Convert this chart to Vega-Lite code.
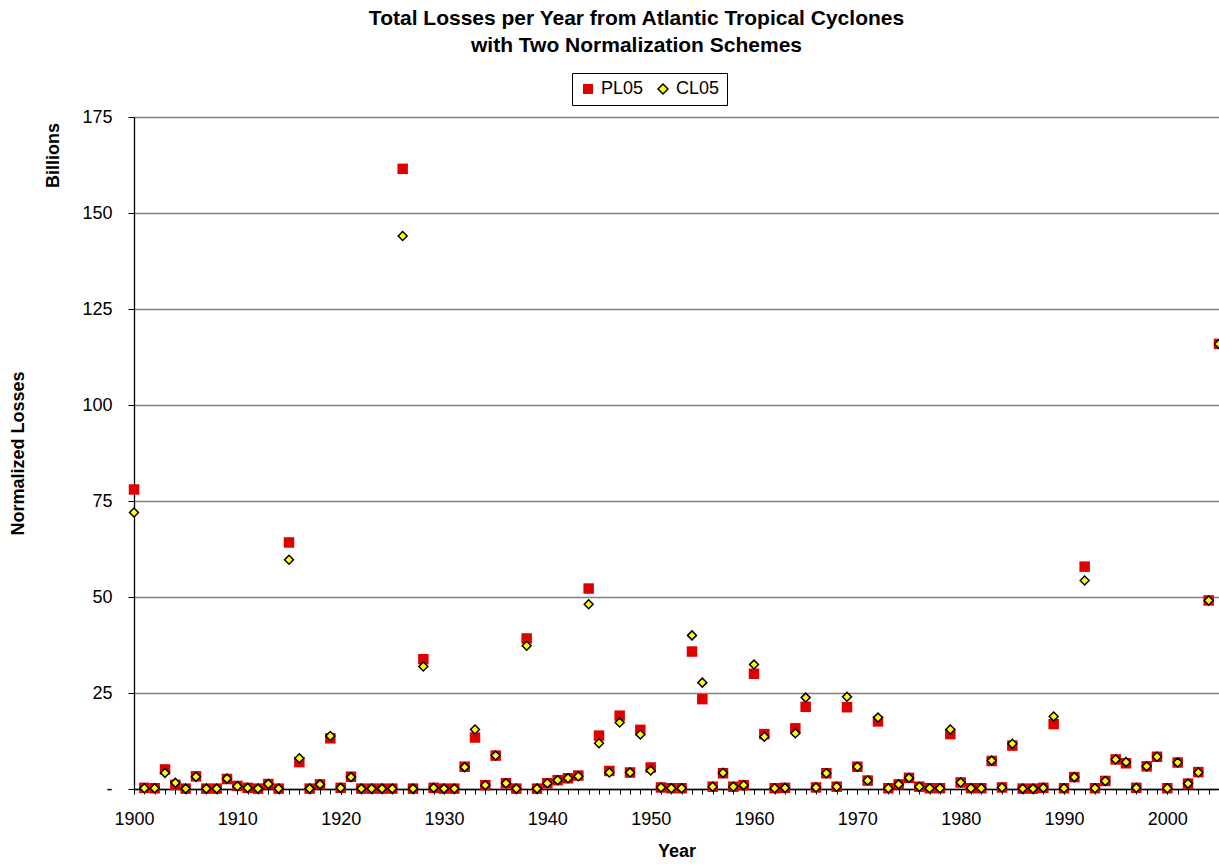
{
  "$schema": "https://vega.github.io/schema/vega-lite/v6.json",
  "width": 1085,
  "height": 672,
  "autosize": {"type": "none"},
  "padding": {"left": 134, "top": 117, "right": 0, "bottom": 78},
  "background": "white",
  "title": {
    "text": ["Total Losses per Year from Atlantic Tropical Cyclones", "with Two Normalization Schemes"],
    "font": "Liberation Sans",
    "fontSize": 21,
    "fontWeight": "bold",
    "color": "black",
    "lineHeight": 27,
    "anchor": "middle",
    "frame": "group",
    "dx": -40,
    "offset": 17
  },
  "config": {
    "view": {"stroke": null},
    "font": "Liberation Sans",
    "axis": {
      "labelFont": "Liberation Sans",
      "titleFont": "Liberation Sans",
      "labelFontSize": 18,
      "titleFontSize": 18,
      "titleFontWeight": "bold",
      "labelColor": "black",
      "titleColor": "black",
      "domainColor": "black",
      "tickColor": "black",
      "domainWidth": 1.3,
      "tickWidth": 1
    },
    "legend": {
      "labelFont": "Liberation Sans",
      "labelFontSize": 18,
      "labelColor": "black"
    }
  },
  "data": {
    "values": [
      {"year": 1900, "PL05": 78.0, "CL05": 72.0},
      {"year": 1901, "PL05": 0.3, "CL05": 0.2},
      {"year": 1902, "PL05": 0.2, "CL05": 0.2},
      {"year": 1903, "PL05": 5.1, "CL05": 4.2},
      {"year": 1904, "PL05": 1.1, "CL05": 1.6},
      {"year": 1905, "PL05": 0.1, "CL05": 0.1},
      {"year": 1906, "PL05": 3.3, "CL05": 3.2},
      {"year": 1907, "PL05": 0.1, "CL05": 0.1},
      {"year": 1908, "PL05": 0.1, "CL05": 0.1},
      {"year": 1909, "PL05": 2.6, "CL05": 2.7},
      {"year": 1910, "PL05": 0.8, "CL05": 0.7},
      {"year": 1911, "PL05": 0.3, "CL05": 0.3},
      {"year": 1912, "PL05": 0.1, "CL05": 0.1},
      {"year": 1913, "PL05": 1.3, "CL05": 1.3},
      {"year": 1914, "PL05": 0.1, "CL05": 0.1},
      {"year": 1915, "PL05": 64.2, "CL05": 59.7},
      {"year": 1916, "PL05": 7.0, "CL05": 8.0},
      {"year": 1917, "PL05": 0.1, "CL05": 0.1},
      {"year": 1918, "PL05": 1.2, "CL05": 1.2},
      {"year": 1919, "PL05": 13.2, "CL05": 13.8},
      {"year": 1920, "PL05": 0.3, "CL05": 0.3},
      {"year": 1921, "PL05": 3.2, "CL05": 3.1},
      {"year": 1922, "PL05": 0.1, "CL05": 0.1},
      {"year": 1923, "PL05": 0.1, "CL05": 0.1},
      {"year": 1924, "PL05": 0.1, "CL05": 0.1},
      {"year": 1925, "PL05": 0.1, "CL05": 0.1},
      {"year": 1926, "PL05": 161.5, "CL05": 144.0},
      {"year": 1927, "PL05": 0.1, "CL05": 0.1},
      {"year": 1928, "PL05": 33.8, "CL05": 31.9},
      {"year": 1929, "PL05": 0.3, "CL05": 0.3},
      {"year": 1930, "PL05": 0.1, "CL05": 0.1},
      {"year": 1931, "PL05": 0.1, "CL05": 0.1},
      {"year": 1932, "PL05": 5.8, "CL05": 5.7},
      {"year": 1933, "PL05": 13.4, "CL05": 15.5},
      {"year": 1934, "PL05": 1.0, "CL05": 1.0},
      {"year": 1935, "PL05": 8.7, "CL05": 8.7},
      {"year": 1936, "PL05": 1.5, "CL05": 1.5},
      {"year": 1937, "PL05": 0.1, "CL05": 0.1},
      {"year": 1938, "PL05": 39.2, "CL05": 37.3},
      {"year": 1939, "PL05": 0.1, "CL05": 0.1},
      {"year": 1940, "PL05": 1.5, "CL05": 1.5},
      {"year": 1941, "PL05": 2.3, "CL05": 2.3},
      {"year": 1942, "PL05": 2.8, "CL05": 2.8},
      {"year": 1943, "PL05": 3.5, "CL05": 3.3},
      {"year": 1944, "PL05": 52.2, "CL05": 48.1},
      {"year": 1945, "PL05": 13.9, "CL05": 11.9},
      {"year": 1946, "PL05": 4.7, "CL05": 4.3},
      {"year": 1947, "PL05": 19.1, "CL05": 17.3},
      {"year": 1948, "PL05": 4.3, "CL05": 4.3},
      {"year": 1949, "PL05": 15.4, "CL05": 14.2},
      {"year": 1950, "PL05": 5.6, "CL05": 4.8},
      {"year": 1951, "PL05": 0.4, "CL05": 0.4},
      {"year": 1952, "PL05": 0.2, "CL05": 0.2},
      {"year": 1953, "PL05": 0.2, "CL05": 0.2},
      {"year": 1954, "PL05": 35.8, "CL05": 40.0},
      {"year": 1955, "PL05": 23.4, "CL05": 27.7},
      {"year": 1956, "PL05": 0.6, "CL05": 0.6},
      {"year": 1957, "PL05": 4.1, "CL05": 4.2},
      {"year": 1958, "PL05": 0.6, "CL05": 0.6},
      {"year": 1959, "PL05": 1.0, "CL05": 1.0},
      {"year": 1960, "PL05": 30.0, "CL05": 32.4},
      {"year": 1961, "PL05": 14.3, "CL05": 13.6},
      {"year": 1962, "PL05": 0.2, "CL05": 0.2},
      {"year": 1963, "PL05": 0.3, "CL05": 0.3},
      {"year": 1964, "PL05": 15.8, "CL05": 14.5},
      {"year": 1965, "PL05": 21.4, "CL05": 23.8},
      {"year": 1966, "PL05": 0.4, "CL05": 0.4},
      {"year": 1967, "PL05": 4.1, "CL05": 4.1},
      {"year": 1968, "PL05": 0.6, "CL05": 0.6},
      {"year": 1969, "PL05": 21.3, "CL05": 24.0},
      {"year": 1970, "PL05": 5.8, "CL05": 5.8},
      {"year": 1971, "PL05": 2.2, "CL05": 2.2},
      {"year": 1972, "PL05": 17.6, "CL05": 18.6},
      {"year": 1973, "PL05": 0.2, "CL05": 0.2},
      {"year": 1974, "PL05": 1.2, "CL05": 1.2},
      {"year": 1975, "PL05": 2.9, "CL05": 2.9},
      {"year": 1976, "PL05": 0.6, "CL05": 0.6},
      {"year": 1977, "PL05": 0.2, "CL05": 0.2},
      {"year": 1978, "PL05": 0.2, "CL05": 0.2},
      {"year": 1979, "PL05": 14.3, "CL05": 15.5},
      {"year": 1980, "PL05": 1.7, "CL05": 1.7},
      {"year": 1981, "PL05": 0.2, "CL05": 0.2},
      {"year": 1982, "PL05": 0.2, "CL05": 0.2},
      {"year": 1983, "PL05": 7.3, "CL05": 7.4},
      {"year": 1984, "PL05": 0.4, "CL05": 0.4},
      {"year": 1985, "PL05": 11.3, "CL05": 11.8},
      {"year": 1986, "PL05": 0.1, "CL05": 0.1},
      {"year": 1987, "PL05": 0.1, "CL05": 0.1},
      {"year": 1988, "PL05": 0.3, "CL05": 0.3},
      {"year": 1989, "PL05": 16.9, "CL05": 18.9},
      {"year": 1990, "PL05": 0.2, "CL05": 0.2},
      {"year": 1991, "PL05": 3.1, "CL05": 3.1},
      {"year": 1992, "PL05": 57.9, "CL05": 54.3},
      {"year": 1993, "PL05": 0.2, "CL05": 0.2},
      {"year": 1994, "PL05": 2.1, "CL05": 2.1},
      {"year": 1995, "PL05": 7.7, "CL05": 7.7},
      {"year": 1996, "PL05": 6.7, "CL05": 7.0},
      {"year": 1997, "PL05": 0.3, "CL05": 0.3},
      {"year": 1998, "PL05": 5.9, "CL05": 5.9},
      {"year": 1999, "PL05": 8.4, "CL05": 8.4},
      {"year": 2000, "PL05": 0.2, "CL05": 0.2},
      {"year": 2001, "PL05": 6.9, "CL05": 6.9},
      {"year": 2002, "PL05": 1.4, "CL05": 1.4},
      {"year": 2003, "PL05": 4.4, "CL05": 4.3},
      {"year": 2004, "PL05": 49.1, "CL05": 49.1},
      {"year": 2005, "PL05": 115.9, "CL05": 115.9}
    ]
  },
  "transform": [
    {"fold": ["PL05", "CL05"], "as": ["series", "value"]}
  ],
  "layer": [
    {
      "transform": [{"filter": "datum.series === 'PL05'"}],
      "mark": {"type": "point", "filled": true, "size": 110, "strokeWidth": 1.5, "opacity": 1},
      "encoding": {
        "x": {
          "field": "year",
          "type": "quantitative",
          "scale": {"domain": [1900, 2005], "nice": false, "zero": false},
          "axis": {
            "orient": "bottom",
            "title": "Year",
            "values": [1900, 1910, 1920, 1930, 1940, 1950, 1960, 1970, 1980, 1990, 2000],
            "format": "d",
            "labelOverlap": false,
            "labelFlush": false,
            "tickSize": 5,
            "labelPadding": 16,
            "titlePadding": 14,
            "grid": false
          }
        },
        "y": {
          "field": "value",
          "type": "quantitative",
          "scale": {"domain": [0, 175], "nice": false},
          "axis": {
            "title": "Normalized Losses",
            "values": [0, 25, 50, 75, 100, 125, 150, 175],
            "labelExpr": "datum.value === 0 ? '-\u00a0\u00a0\u00a0\u00a0' : format(datum.value, 'd')",
            "tickSize": 6,
            "labelPadding": 16,
            "grid": true,
            "gridColor": "#808080",
            "gridWidth": 1.3,
            "titleX": -116,
            "titleY": 336,
            "titleBaseline": "middle",
            "titleAngle": 270
          }
        },
        "fill": {
          "field": "series",
          "type": "nominal",
          "scale": {"domain": ["PL05", "CL05"], "range": ["#E00000", "#FFFF00"]},
          "legend": {
            "title": null,
            "orient": "none",
            "legendX": 438,
            "legendY": -44,
            "direction": "horizontal",
            "strokeColor": "black",
            "fillColor": "white",
            "padding": 7,
            "columnPadding": 10,
            "symbolStrokeWidth": 1.5,
            "symbolSize": 100
          }
        },
        "shape": {
          "field": "series",
          "type": "nominal",
          "scale": {"domain": ["PL05", "CL05"], "range": ["square", "diamond"]},
          "legend": {"title": null}
        },
        "stroke": {
          "field": "series",
          "type": "nominal",
          "scale": {"domain": ["PL05", "CL05"], "range": ["transparent", "black"]},
          "legend": {"title": null}
        }
      }
    },
    {
      "transform": [{"filter": "datum.series === 'CL05'"}],
      "mark": {"type": "point", "filled": true, "size": 80, "strokeWidth": 1.5, "opacity": 1},
      "encoding": {
        "x": {
          "field": "year",
          "type": "quantitative",
          "axis": {
            "orient": "bottom",
            "title": null,
            "values": [1900,1901,1902,1903,1904,1905,1906,1907,1908,1909,1910,1911,1912,1913,1914,1915,1916,1917,1918,1919,1920,1921,1922,1923,1924,1925,1926,1927,1928,1929,1930,1931,1932,1933,1934,1935,1936,1937,1938,1939,1940,1941,1942,1943,1944,1945,1946,1947,1948,1949,1950,1951,1952,1953,1954,1955,1956,1957,1958,1959,1960,1961,1962,1963,1964,1965,1966,1967,1968,1969,1970,1971,1972,1973,1974,1975,1976,1977,1978,1979,1980,1981,1982,1983,1984,1985,1986,1987,1988,1989,1990,1991,1992,1993,1994,1995,1996,1997,1998,1999,2000,2001,2002,2003,2004,2005],
            "labels": false,
            "domain": false,
            "grid": false,
            "tickSize": 5
          }
        },
        "y": {
          "field": "value",
          "type": "quantitative",
          "axis": {
            "orient": "left",
            "title": "Billions",
            "domain": false,
            "ticks": false,
            "labels": false,
            "grid": false,
            "titleX": -81,
            "titleY": 38,
            "titleBaseline": "middle",
            "titleAngle": 270
          }
        },
        "fill": {"field": "series", "type": "nominal"},
        "shape": {"field": "series", "type": "nominal"},
        "stroke": {"field": "series", "type": "nominal"}
      }
    }
  ],
  "resolve": {"axis": {"x": "independent", "y": "independent"}}
}
